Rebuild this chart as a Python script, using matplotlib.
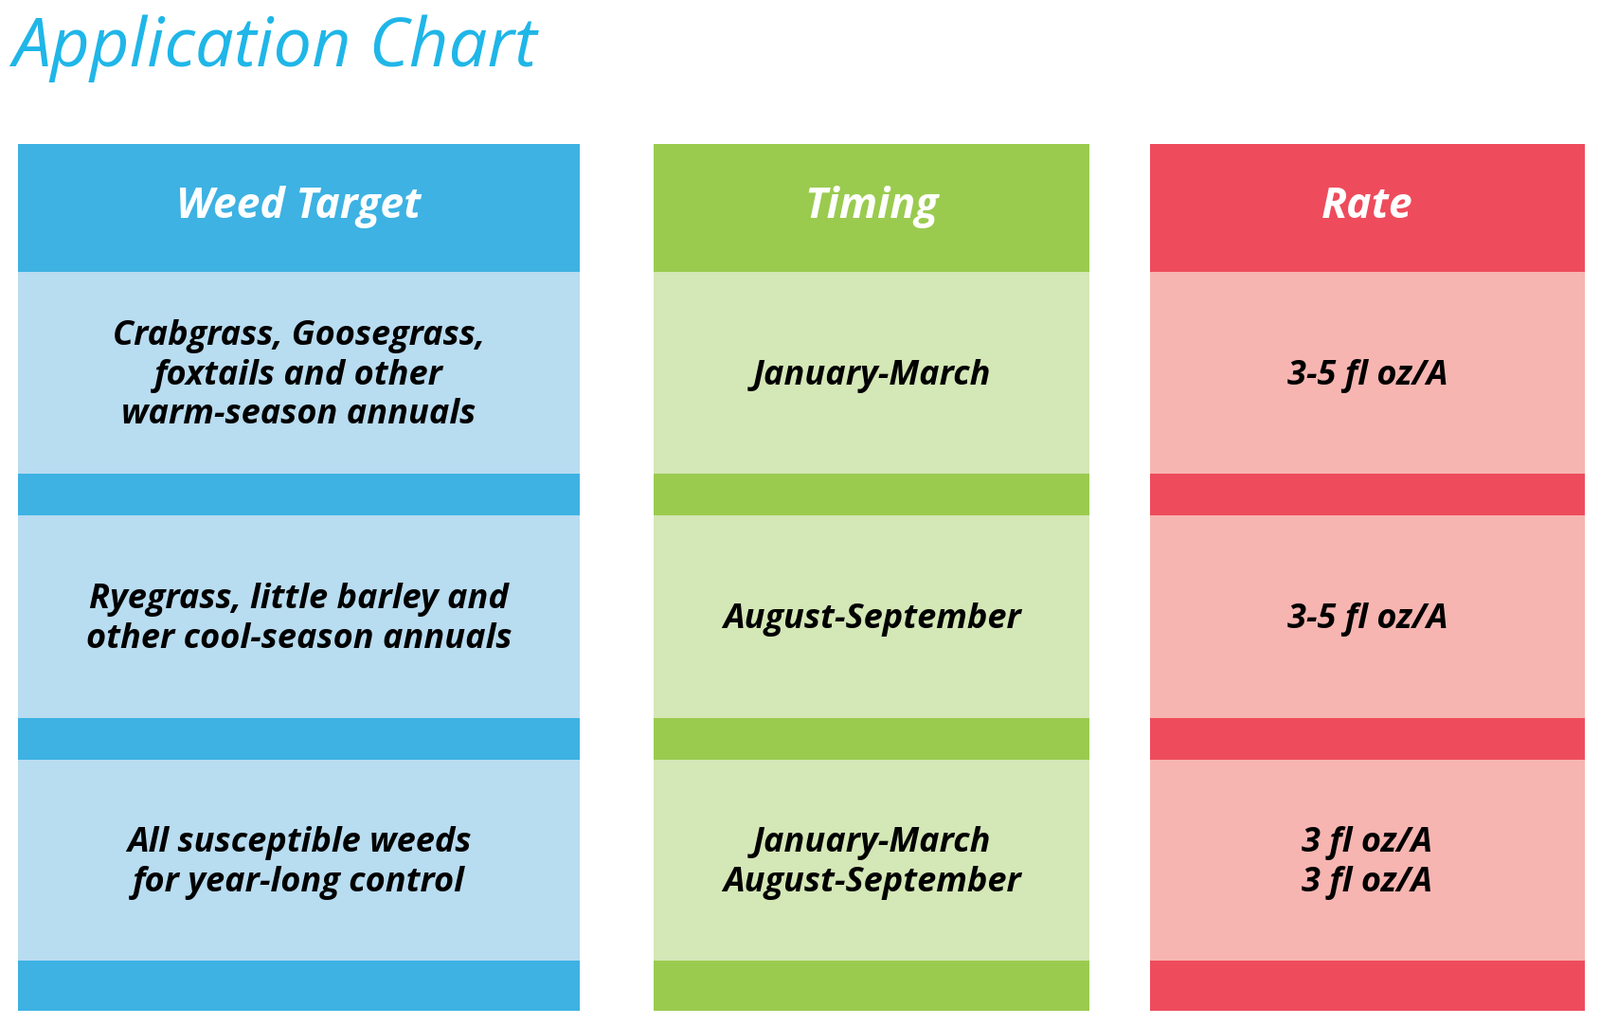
import matplotlib.pyplot as plt
from matplotlib.patches import Rectangle

headers = ["Weed Target", "Timing", "Rate"]
weed_targets = ["Crabgrass, Goosegrass,\nfoxtails and other\nwarm-season annuals",
                "Ryegrass, little barley and\nother cool-season annuals",
                "All susceptible weeds\nfor year-long control"]
timings = ["January-March", "August-September", "January-March\nAugust-September"]
rates = ["3-5 fl oz/A", "3-5 fl oz/A", "3 fl oz/A\n3 fl oz/A"]

dark = ["#3DB2E3", "#9ACB4F", "#EE4C5C"]
light = ["#B8DCF0", "#D4E7B6", "#F7B5B1"]
cols = [(18, 568), (641, 1068), (1127, 1553)]
rows = [(266, 464, 505), (505, 703, 744), (744, 941, 990)]

fig = plt.figure(figsize=(16.89, 10.82), dpi=100)
ax = fig.add_axes([0, 0, 1, 1])
ax.set_xlim(0, 1568)
ax.set_ylim(1004, 0)
ax.axis("off")
plt.rcParams["font.family"] = "Open Sans"

ax.text(12, 48, "Application Chart", color="#1FB6E8", fontsize=52,
        style="italic", fontweight="normal", va="center", ha="left")

for c, (x0, x1) in enumerate(cols):
    ax.add_patch(Rectangle((x0, 141), x1 - x0, 125, color=dark[c], lw=0))
    ax.text((x0 + x1) / 2, 203, headers[c], color="white", fontsize=32,
            style="italic", fontweight="bold", ha="center", va="center")
    texts = [weed_targets, timings, rates][c]
    for r, (y0, y1, y2) in enumerate(rows):
        ax.add_patch(Rectangle((x0, y0), x1 - x0, y1 - y0, color=light[c], lw=0))
        ax.add_patch(Rectangle((x0, y1), x1 - x0, y2 - y1, color=dark[c], lw=0))
        ax.text((x0 + x1) / 2, (y0 + y1) / 2 + 3, texts[r], color="black",
                fontsize=26, style="italic", fontweight="bold", ha="center",
                va="center", linespacing=1.2)

fig.savefig("out.png", dpi=100)
